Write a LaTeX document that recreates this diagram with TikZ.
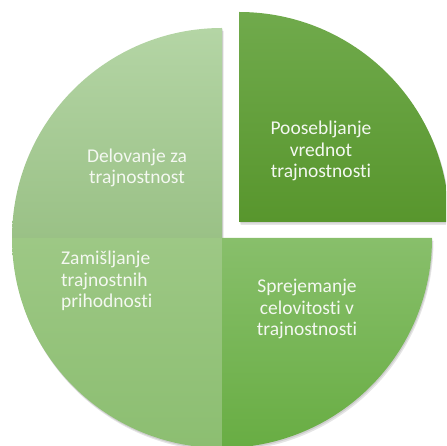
\documentclass[tikz,border=0pt]{standalone}
\usepackage{fontspec}
\setmainfont{Carlito}[RawFeature=-liga]
\definecolor{tlA}{HTML}{B4D5A5}
\definecolor{tlB}{HTML}{9AC186}
\definecolor{blA}{HTML}{9DC885}
\definecolor{blB}{HTML}{8CBE71}
\definecolor{brA}{HTML}{88BF6B}
\definecolor{brB}{HTML}{68AD43}
\definecolor{trA}{HTML}{70AA4C}
\definecolor{trB}{HTML}{58962D}
\definecolor{txt}{HTML}{F4F8F1}
\tikzset{
  lab/.style={text=txt, font=\fontsize{19.5}{21.5}\selectfont, inner sep=0pt},
  shadowfill/.style={fill=black, fill opacity=0.10, draw=none}
}
\begin{document}
\begin{tikzpicture}[x=1pt,y=1pt]
\useasboundingbox (0,0) rectangle (446,446);
\clip (0,0) rectangle (446,446);
\coordinate (C) at (222,208);
\coordinate (E) at (239,224);
% shadows
\foreach \d in {1.5,3} {
  \fill[shadowfill] ([shift={(\d*0.5,-\d)}]C) -- ++(-210,0) arc[start angle=180,end angle=90,radius=210] -- cycle;
  \fill[shadowfill] ([shift={(\d*0.5,-\d)}]C) -- ++(210,0) arc[start angle=0,end angle=-90,radius=210] -- cycle;
  \fill[shadowfill] ([shift={(\d*0.5,-\d)}]C) -- ++(0,-210) arc[start angle=270,end angle=180,radius=210] -- cycle;
  \fill[shadowfill] ([shift={(\d*0.5,-\d)}]E) -- ++(0,210) arc[start angle=90,end angle=0,radius=210] -- cycle;
}
% sectors
\shade[top color=tlA, bottom color=tlB] (C) -- ++(-210,0) arc[start angle=180,end angle=90,radius=210] -- cycle;
\shade[top color=blA, bottom color=blB] (C) -- ++(0,-210) arc[start angle=270,end angle=180,radius=210] -- cycle;
\shade[top color=brA, bottom color=brB] (C) -- ++(210,0) arc[start angle=0,end angle=-90,radius=210] -- cycle;
\shade[top color=trA, bottom color=trB] (E) -- ++(0,210) arc[start angle=90,end angle=0,radius=210] -- cycle;
% labels
\node[lab, align=center] (t1) at (321,295) {Poosebljanje\\vrednot\\trajnostnosti};
\node[lab, align=center] (t2) at (137,278) {Delovanje za\\trajnostnost};
\node[lab, align=left, anchor=west] (t3) at (61,165) {Zamišljanje\\trajnostnih\\prihodnosti};
\node[lab, align=center] (t4) at (307,137) {Sprejemanje\\celovitosti v\\trajnostnosti};
\end{tikzpicture}
\end{document}
